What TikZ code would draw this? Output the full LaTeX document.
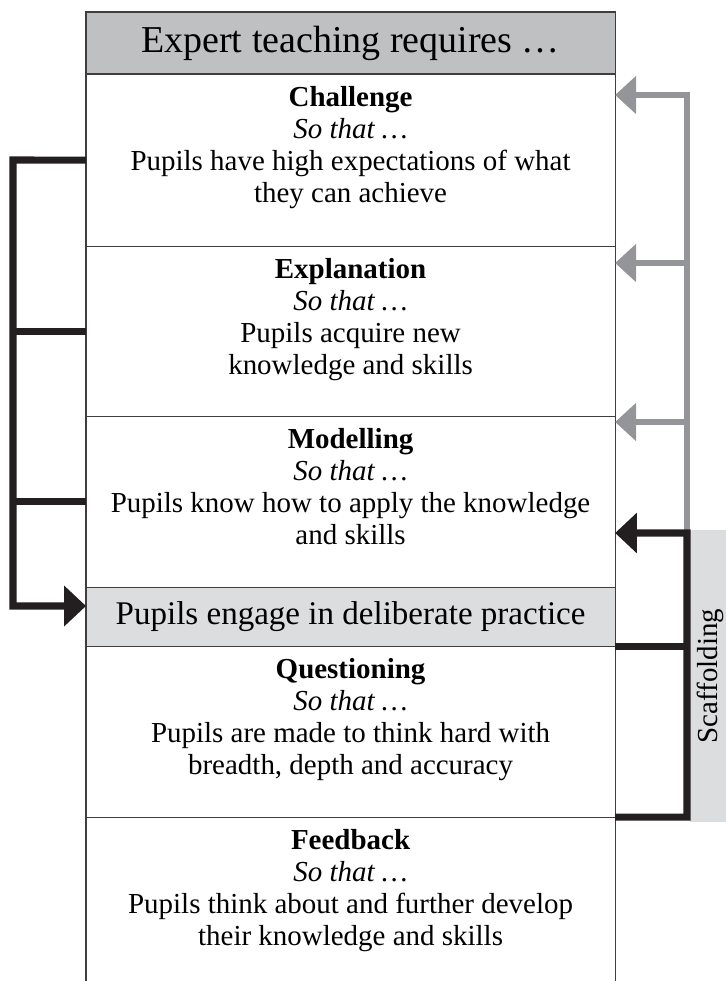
\documentclass[tikz,border=0pt]{standalone}
\usepackage{fontspec}
\setmainfont{Liberation Serif}
\usetikzlibrary{positioning,arrows.meta}

\definecolor{framegray}{RGB}{62,62,64}
\definecolor{headgray}{RGB}{191,192,194}
\definecolor{softgray}{RGB}{220,221,222}
\definecolor{arrowgray}{RGB}{147,149,152}
\definecolor{arrowblack}{RGB}{35,31,32}

\tikzset{
  box/.style={draw=framegray, line width=0.8pt, minimum width=13.225cm,
    inner sep=0pt, outer sep=0pt},
  headbox/.style={box, fill=headgray, minimum height=1.55cm,
    font=\fontsize{27}{30}\selectfont},
  stagebox/.style={box, fill=white},
  practicebox/.style={box, fill=softgray, minimum height=1.475cm,
    font=\fontsize{23.5}{26}\selectfont},
  stagetext/.style={align=center, inner sep=0pt,
    font=\fontsize{20.6}{22.8}\selectfont},
  scafbox/.style={fill=softgray, rotate=90, minimum width=7.3cm,
    minimum height=1cm, inner sep=0pt, font=\fontsize{20.6}{22.8}\selectfont},
  grayarr/.style={draw=arrowgray, line width=4.6pt, line join=miter,
    -{Triangle[length=15pt,width=26.5pt]}},
  grayline/.style={draw=arrowgray, line width=4.6pt},
  blackarr/.style={draw=arrowblack, line width=5pt, line join=miter,
    -{Triangle[length=15.5pt,width=28pt]}},
  blackline/.style={draw=arrowblack, line width=5pt}
}

\begin{document}
\begin{tikzpicture}[x=0.025cm, y=-0.025cm, node distance=0pt]
  \useasboundingbox (0,0) rectangle (725,981);
  % Cabecera
  \node[headbox, anchor=north west] (header) at (86,12) {Expert teaching requires \ldots};
  % Challenge
  \node[stagebox, minimum height=4.3cm, below=of header] (challenge) {};
  \node[stagetext, below=0.3cm of challenge.north] (challenge-txt)
    {\textbf{Challenge}\\\textit{So that \ldots}\\Pupils have high expectations of what\\they can achieve};
  % Explanation
  \node[stagebox, minimum height=4.25cm, below=of challenge] (explanation) {};
  \node[stagetext, below=0.3cm of explanation.north] (explanation-txt)
    {\textbf{Explanation}\\\textit{So that \ldots}\\Pupils acquire new\\knowledge and skills};
  % Modelling
  \node[stagebox, minimum height=4.275cm, below=of explanation] (modelling) {};
  \node[stagetext, below=0.3cm of modelling.north] (modelling-txt)
    {\textbf{Modelling}\\\textit{So that \ldots}\\Pupils know how to apply the knowledge\\and skills};
  % Deliberate practice
  \node[practicebox, below=of modelling] (practice) {Pupils engage in deliberate practice};
  % Questioning
  \node[stagebox, minimum height=4.275cm, below=of practice] (questioning) {};
  \node[stagetext, below=0.3cm of questioning.north] (questioning-txt)
    {\textbf{Questioning}\\\textit{So that \ldots}\\Pupils are made to think hard with\\breadth, depth and accuracy};
  % Feedback (runs off the bottom)
  \node[stagebox, minimum height=4.5cm, below=of questioning] (feedback) {};
  \node[stagetext, below=0.3cm of feedback.north] (feedback-txt)
    {\textbf{Feedback}\\\textit{So that \ldots}\\Pupils think about and further develop\\their knowledge and skills};

  % Scaffolding
  \node[scafbox] (scaffolding) at (710,676) {Scaffolding};

  % Flechas grises a la derecha
  \coordinate (g-top) at (687,95);
  \coordinate (g-mid) at (687,263);
  \coordinate (g-low) at (687,422);
  \coordinate (g-foot) at (687,530);
  \draw[grayarr] (g-foot) -- (g-top) -- (challenge.east |- g-top);
  \draw[grayarr] (g-mid) -- (explanation.east |- g-mid);
  \draw[grayarr] (g-low) -- (modelling.east |- g-low);

  % Flecha negra a la derecha
  \coordinate (s-top) at (687,533);
  \coordinate (s-bot) at (687,817);
  \draw[blackarr] (questioning.south east) -- (s-bot) -- (s-top) -- (modelling.east |- s-top);
  \draw[blackline] (practice.south east) -- (practice.south east -| s-top);

  % Corchete a la izquierda
  \coordinate (l-top) at (13,160);
  \coordinate (l-bot) at (13,606);
  \draw[blackarr] (challenge.west) -- (l-top) -- (l-bot) -- (practice.west |- l-bot);
  \draw[blackline] (explanation.west) -- (explanation.west -| l-top);
  \draw[blackline] (modelling.west) -- (modelling.west -| l-top);
\end{tikzpicture}
\end{document}
